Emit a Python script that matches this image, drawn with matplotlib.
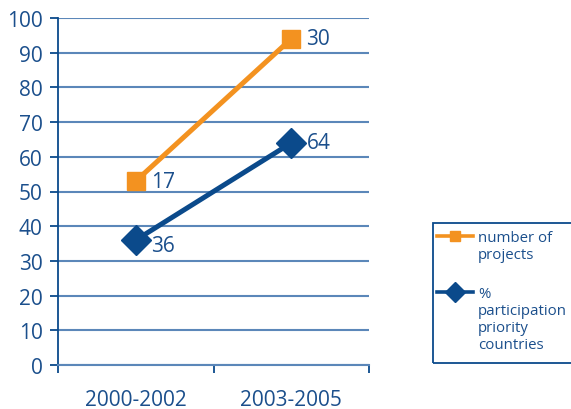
import matplotlib.pyplot as plt
from matplotlib.lines import Line2D
from matplotlib.patches import Rectangle
from matplotlib.ticker import FixedLocator

# ---------------------------------------------------------------------------
# Data
# ---------------------------------------------------------------------------
categories = ["2000-2002", "2003-2005"]
projects_vals = [53, 94]          # plotted position of "number of projects"
projects_labels = ["17", "30"]    # annotated counts
priority_vals = [36, 64]          # % participation priority countries
priority_labels = ["36", "64"]
y_ticks = list(range(0, 101, 10))
legend_labels = ["number of\nprojects", "%\nparticipation\npriority\ncountries"]

ORANGE = "#f39220"
BLUE = "#0b4a8b"
GRID = "#5b87b9"
TEXT = "#1b4f8c"

plt.rcParams["font.family"] = ["Open Sans", "DejaVu Sans"]

fig = plt.figure(figsize=(5.71, 4.10), dpi=100)
ax = fig.add_axes([58 / 571, 1 - 366 / 410, 311 / 571, 347 / 410])

x = list(range(len(categories)))
ax.plot(x, projects_vals, color=ORANGE, linewidth=3.6, marker="s",
        markersize=13.5, zorder=4)
ax.plot(x, priority_vals, color=BLUE, linewidth=3.6, marker="D",
        markersize=15, zorder=4)

# value labels, nudged right of the markers
for xi, v, lab in zip(x, projects_vals, projects_labels):
    ax.annotate(lab, (xi, v), xytext=(11, 0), textcoords="offset points",
                ha="left", va="center", fontsize=15, color=TEXT)
for xi, v, lab, dy in zip(x, priority_vals, priority_labels, [-4, 0]):
    ax.annotate(lab, (xi, v), xytext=(11, dy), textcoords="offset points",
                ha="left", va="center", fontsize=15, color=TEXT)

ax.set_xlim(-0.5, len(categories) - 0.5)
ax.set_ylim(0, 100)
ax.set_yticks(y_ticks)
ax.set_xticks(x)
ax.set_xticklabels(categories)
ax.xaxis.set_minor_locator(FixedLocator([i - 0.5 for i in range(len(categories) + 1)]))

ax.grid(axis="y", color=GRID, linewidth=1.5)
ax.set_axisbelow(True)
for side in ("top", "right"):
    ax.spines[side].set_visible(False)
ax.spines["left"].set_color(BLUE)
ax.spines["left"].set_linewidth(1.3)
ax.spines["bottom"].set_color(GRID)
ax.spines["bottom"].set_linewidth(1.5)

ax.tick_params(axis="y", length=6, width=1.3, color=BLUE, labelsize=15,
               labelcolor=TEXT, pad=5)
ax.tick_params(axis="x", which="major", length=0, labelsize=15,
               labelcolor=TEXT, pad=17)
ax.tick_params(axis="x", which="minor", length=6, width=1.3, color=BLUE)

# Legend box drawn by hand so handles sit on the first text line
fig.patches.append(Rectangle((433 / 571, 1 - 364 / 410), 0.3, 140 / 410,
                             transform=fig.transFigure, fill=False,
                             edgecolor=BLUE, linewidth=1.3))
legend_styles = [(ORANGE, "s", 7), (BLUE, "D", 10)]
legend_y = [237, 293]
for (c, m, ms), yy, lab in zip(legend_styles, legend_y, legend_labels):
    fy = 1 - yy / 410
    fig.lines.append(Line2D([437 / 571, 473 / 571], [fy, fy],
                            transform=fig.transFigure, color=c, linewidth=2.6))
    fig.lines.append(Line2D([455 / 571], [fy], transform=fig.transFigure,
                            color=c, marker=m, markersize=ms, linestyle="none"))
    fig.text(478 / 571, fy + 6 / 410, lab, ha="left", va="top", fontsize=10.8,
             color=TEXT, linespacing=1.18)

fig.savefig("out.png", dpi=100)
